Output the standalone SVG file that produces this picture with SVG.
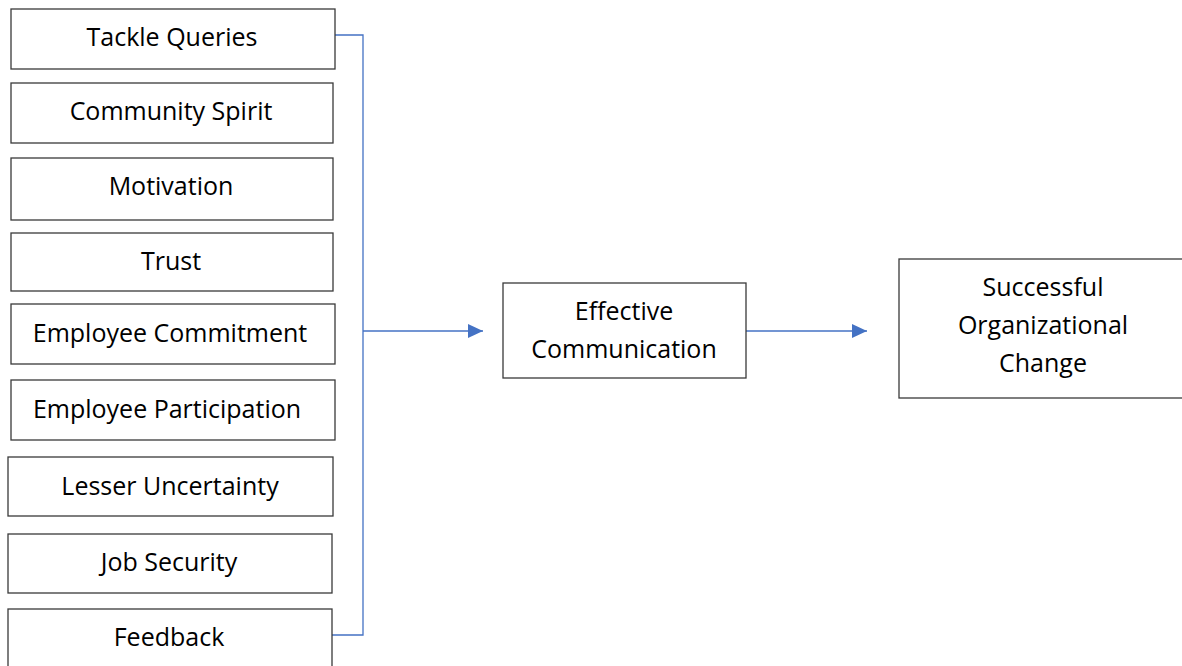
<svg xmlns="http://www.w3.org/2000/svg" width="1182" height="666" viewBox="0 0 1182 666">
<style>
.box{fill:#fff;stroke:#3a3a3a;stroke-width:1.3}
.t{font-family:"Open Sans","Liberation Sans",Arial,sans-serif;font-size:25px;fill:#000;text-anchor:middle}
.c{fill:none;stroke:#4472C4;stroke-width:1.3}
</style>
<defs>
<marker id="ah" markerWidth="16" markerHeight="16" refX="15" refY="8" orient="auto" markerUnits="userSpaceOnUse">
<path d="M0,1 L15,8 L0,15 Z" fill="#4472C4"/>
</marker>
</defs>
<rect width="1182" height="666" fill="#fff"/>
<g id="connectors">
<path class="c" d="M335,35 H363 V635 H332"/>
<path class="c" d="M363,331 H483" marker-end="url(#ah)"/>
<path class="c" d="M746,331 H867" marker-end="url(#ah)"/>
</g>
<g id="n1"><rect class="box" x="11" y="9" width="324" height="60"/><text class="t" x="172" y="46">Tackle Queries</text></g>
<g id="n2"><rect class="box" x="11" y="83" width="322" height="60"/><text class="t" x="171" y="120">Community Spirit</text></g>
<g id="n3"><rect class="box" x="11" y="158" width="322" height="62"/><text class="t" x="171" y="195">Motivation</text></g>
<g id="n4"><rect class="box" x="11" y="233" width="322" height="58"/><text class="t" x="171" y="270">Trust</text></g>
<g id="n5"><rect class="box" x="11" y="304" width="324" height="60"/><text class="t" x="170" y="342">Employee Commitment</text></g>
<g id="n6"><rect class="box" x="11" y="380" width="324" height="60"/><text class="t" x="167" y="418">Employee Participation</text></g>
<g id="n7"><rect class="box" x="8" y="457" width="325" height="59"/><text class="t" x="170" y="495">Lesser Uncertainty</text></g>
<g id="n8"><rect class="box" x="8" y="534" width="324" height="59"/><text class="t" x="169" y="571">Job Security</text></g>
<g id="n9"><rect class="box" x="8" y="609" width="324" height="70"/><text class="t" x="169" y="646">Feedback</text></g>
<g id="n10"><rect class="box" x="503" y="283" width="243" height="95"/><text class="t" x="624" y="320">Effective</text><text class="t" x="624" y="358">Communication</text></g>
<g id="n11"><rect class="box" x="899" y="259" width="300" height="139"/><text class="t" x="1043" y="296">Successful</text><text class="t" x="1043" y="334">Organizational</text><text class="t" x="1043" y="372">Change</text></g>
</svg>
